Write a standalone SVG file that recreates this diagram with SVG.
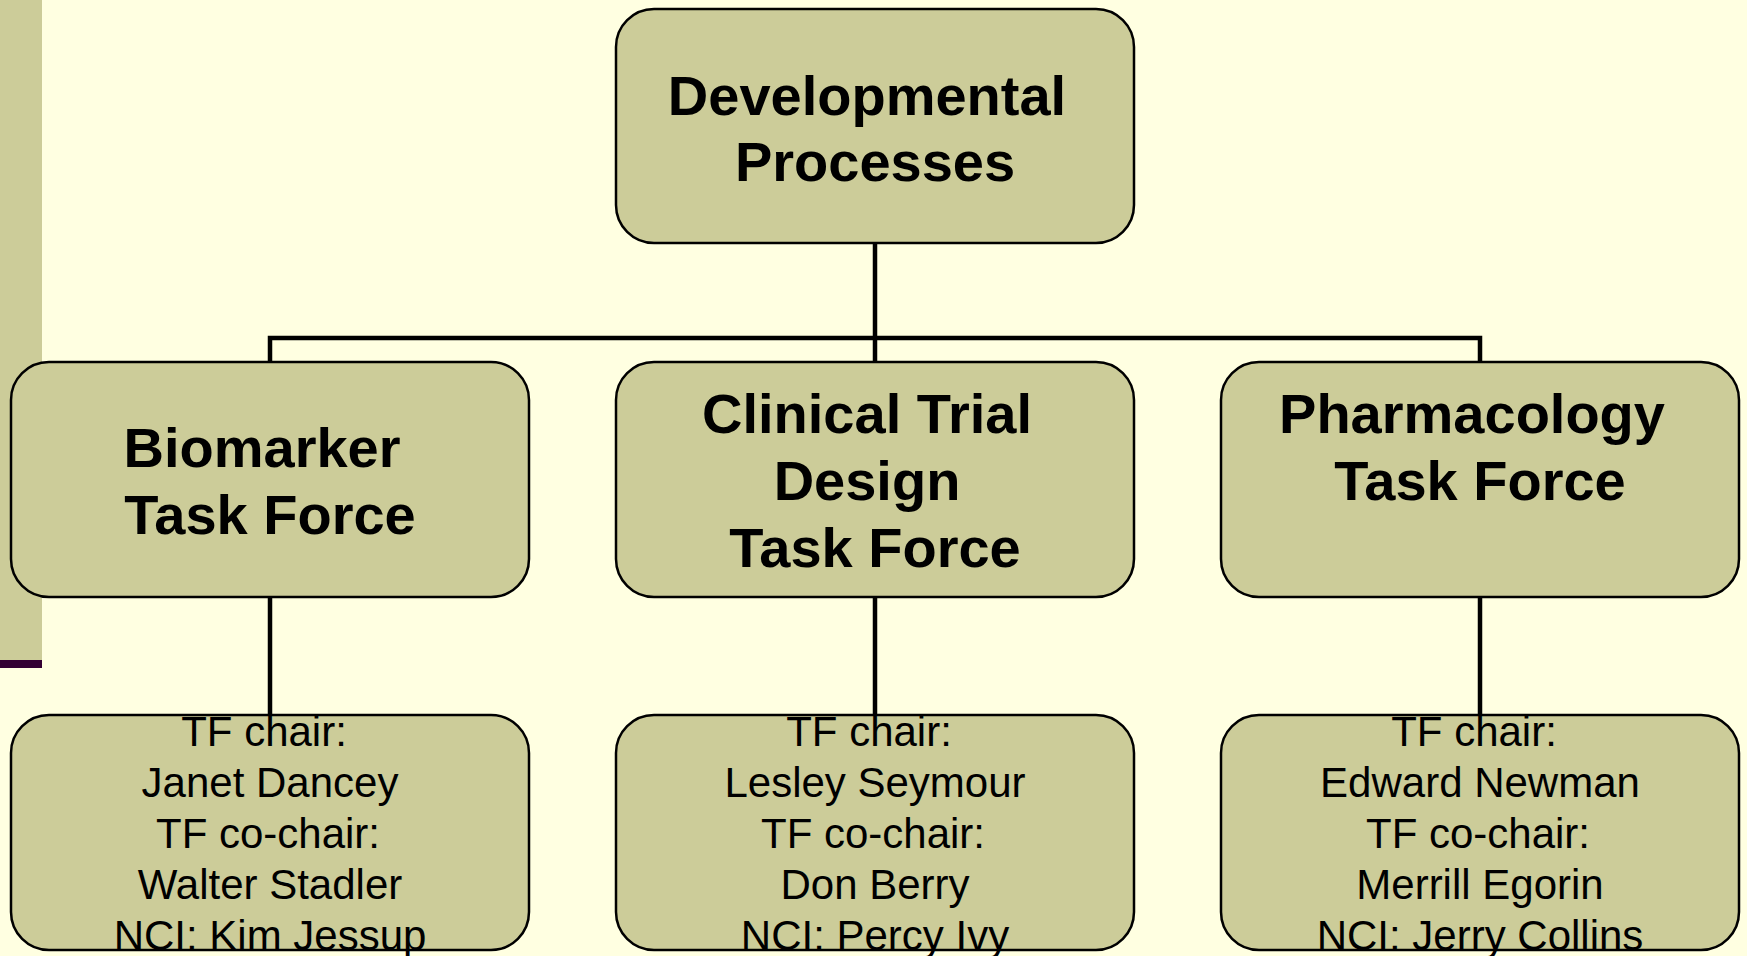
<svg xmlns="http://www.w3.org/2000/svg" width="1747" height="956" viewBox="0 0 1747 956">
<style>
.box{fill:#CCCC99;stroke:#000;stroke-width:2.5}
.conn{fill:none;stroke:#000;stroke-width:4.5;stroke-linecap:butt}
.h{font-family:"Liberation Sans",Arial,sans-serif;font-weight:bold;font-size:56px;text-anchor:middle;fill:#000}
.p{font-family:"Liberation Sans",Arial,sans-serif;font-size:42px;text-anchor:middle;fill:#000}
</style>
<rect x="0" y="0" width="1747" height="956" fill="#FFFFE1"/>
<rect x="0" y="0" width="42" height="660" fill="#CCCC99"/>
<rect x="0" y="660" width="42" height="8" fill="#330033"/>
<g id="connectors">
<path class="conn" d="M875 243 V362"/>
<path class="conn" d="M270 362 V338 H1480 V362"/>
<path class="conn" d="M270 597 V715"/>
<path class="conn" d="M875 597 V715"/>
<path class="conn" d="M1480 597 V715"/>
</g>
<g id="developmental-processes">
<rect class="box" x="616" y="9" width="518" height="234" rx="38" ry="38"/>
<text class="h" x="867" y="115">Developmental</text>
<text class="h" x="875" y="181">Processes</text>
</g>
<g id="biomarker-tf">
<rect class="box" x="11" y="362" width="518" height="235" rx="38" ry="38"/>
<text class="h" x="262" y="467">Biomarker</text>
<text class="h" x="270" y="534">Task Force</text>
</g>
<g id="clinical-trial-tf">
<rect class="box" x="616" y="362" width="518" height="235" rx="38" ry="38"/>
<text class="h" x="867" y="433">Clinical Trial</text>
<text class="h" x="867" y="500">Design</text>
<text class="h" x="875" y="567">Task Force</text>
</g>
<g id="pharmacology-tf">
<rect class="box" x="1221" y="362" width="518" height="235" rx="38" ry="38"/>
<text class="h" x="1472" y="433">Pharmacology</text>
<text class="h" x="1480" y="500">Task Force</text>
</g>
<g id="biomarker-members">
<rect class="box" x="11" y="715" width="518" height="235" rx="38" ry="38"/>
<text class="p" x="264" y="746">TF chair:</text>
<text class="p" x="270" y="797">Janet Dancey</text>
<text class="p" x="268" y="848">TF co-chair:</text>
<text class="p" x="270" y="899">Walter Stadler</text>
<text class="p" x="270" y="950">NCI: Kim Jessup</text>
</g>
<g id="clinical-trial-members">
<rect class="box" x="616" y="715" width="518" height="235" rx="38" ry="38"/>
<text class="p" x="869" y="746">TF chair:</text>
<text class="p" x="875" y="797">Lesley Seymour</text>
<text class="p" x="873" y="848">TF co-chair:</text>
<text class="p" x="875" y="899">Don Berry</text>
<text class="p" x="875" y="950">NCI: Percy Ivy</text>
</g>
<g id="pharmacology-members">
<rect class="box" x="1221" y="715" width="518" height="235" rx="38" ry="38"/>
<text class="p" x="1474" y="746">TF chair:</text>
<text class="p" x="1480" y="797">Edward Newman</text>
<text class="p" x="1478" y="848">TF co-chair:</text>
<text class="p" x="1480" y="899">Merrill Egorin</text>
<text class="p" x="1480" y="950">NCI: Jerry Collins</text>
</g>
</svg>
